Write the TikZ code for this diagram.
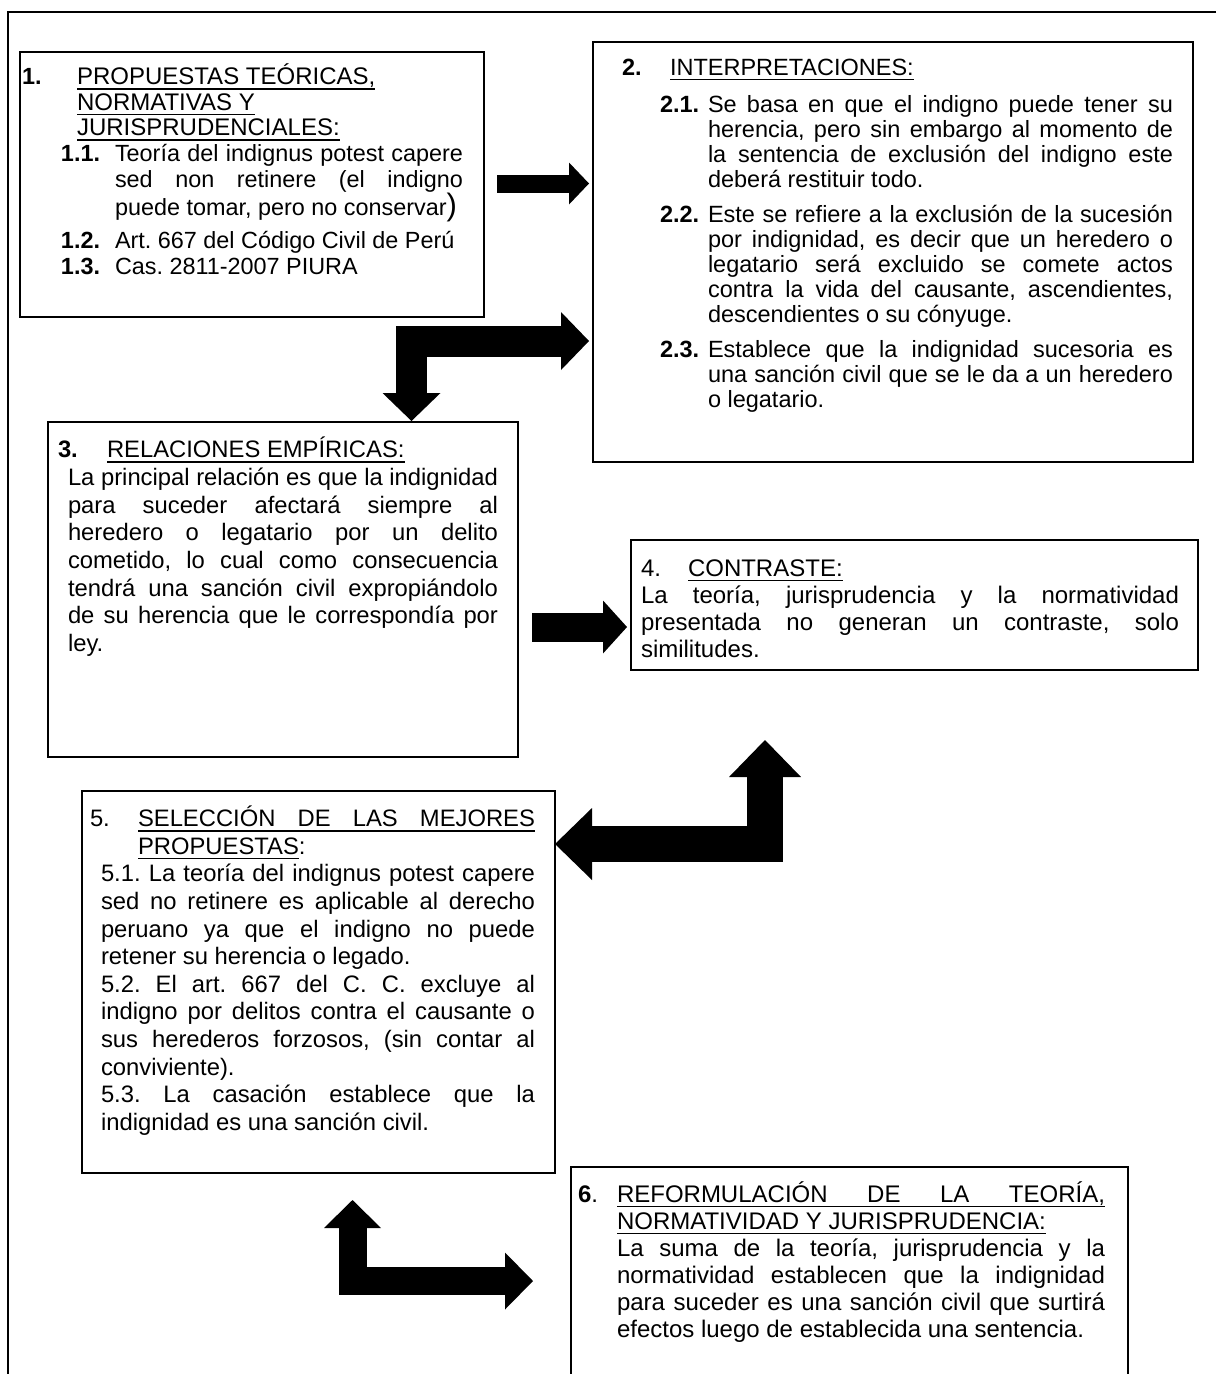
\documentclass[tikz,border=0pt]{standalone}
\usepackage{fontspec}
\setmainfont{Liberation Sans}
\usetikzlibrary{positioning,arrows.meta,calc}
\frenchspacing
\newcommand{\fl}{\rule{0pt}{23pt}}
\newcommand{\ulx}[1]{\setbox0=\hbox{#1}\rlap{\rule[-5pt]{\wd0}{1.4pt}}\box0}
\newcommand{\hitem}[3]{\par\leftskip=#1\relax\noindent\hangindent=#2\hangafter=1\relax\makebox[#2][l]{#3}\ignorespaces}
\newcommand{\bodytext}[1]{\par\leftskip=#1\relax\noindent\ignorespaces}

\tikzset{
  box/.style={draw=black, line width=1.4pt, anchor=north west, inner sep=0pt, outer sep=0pt},
  txt/.style={anchor=north west, inner sep=0pt, outer sep=0pt, align=justify},
  bigarrow/.style n args={3}{line width=#1, line join=miter, >={Triangle[width=#2,length=#3,line width=0pt]}}
}

\begin{document}
\begin{tikzpicture}[x=1pt,y=-1pt]
\path[fill=white] (0,0) rectangle (1216,1374);
\useasboundingbox (0,0) rectangle (1216,1374);
\draw[line width=2pt] (1216,12) -- (8,12) -- (8,1374);

% boxes
\node[box, minimum width=464pt, minimum height=265pt] (b1) at (20,52) {};
\node[box, minimum width=600pt, minimum height=420pt] (b2) at (593,42) {};
\node[box, minimum width=470pt, minimum height=335pt] (b3) at (48,422) {};
\node[box, minimum width=567pt, minimum height=130pt] (b4) at (631,540) {};
\node[box, minimum width=473pt, minimum height=382pt] (b5) at (82,791) {};
\node[box, minimum width=557pt, minimum height=230pt] (b6) at (571,1167) {};

% texts
\node[txt, text width=441pt, font={\fontsize{23.4}{26}\selectfont}, below right=7pt and 2pt of b1.north west] (t1) {%
\hitem{0pt}{55pt}{\fl\textbf{1.}}{\fontsize{24}{25.5}\selectfont\ulx{PROPUESTAS TEÓRICAS,}\newline\ulx{NORMATIVAS Y}\newline\ulx{JURISPRUDENCIALES:}\par}
\hitem{39pt}{54pt}{\textbf{1.1.}}Teoría del indignus potest capere\linebreak sed non retinere (el indigno\linebreak\rule[-14pt]{0pt}{26pt}puede tomar, pero no conservar{\fontsize{31}{31}\selectfont)}
\hitem{39pt}{54pt}{\textbf{1.2.}}Art. 667 del Código Civil de Perú
\hitem{39pt}{54pt}{\textbf{1.3.}}Cas. 2811-2007 PIURA\par};

\node[txt, text width=551pt, font={\fontsize{23.5}{25}\selectfont}, below right=8pt and 29pt of b2.north west] (t2) {%
\hitem{0pt}{48pt}{\fl\textbf{2.}}\ulx{INTERPRETACIONES:}\par\vspace{12pt}
\hitem{38pt}{48pt}{\textbf{2.1.}}Se basa en que el indigno puede tener su\linebreak herencia, pero sin embargo al momento de\linebreak la sentencia de exclusión del indigno este\linebreak deberá restituir todo.\par\vspace{10pt}
\hitem{38pt}{48pt}{\textbf{2.2.}}Este se refiere a la exclusión de la sucesión\linebreak por indignidad, es decir que un heredero o\linebreak legatario será excluido se comete actos\linebreak contra la vida del causante, ascendientes,\linebreak descendientes o su cónyuge.\par\vspace{10pt}
\hitem{38pt}{48pt}{\textbf{2.3.}}Establece que la indignidad sucesoria es\linebreak una sanción civil que se le da a un heredero\linebreak o legatario.\par};

\node[txt, text width=440pt, font={\fontsize{23.8}{27.7}\selectfont}, below right=8pt and 10pt of b3.north west] (t3) {%
\hitem{0pt}{49pt}{\fl\textbf{3.}}\ulx{RELACIONES EMPÍRICAS:}
\bodytext{10pt}La principal relación es que la indignidad\linebreak para suceder afectará siempre al\linebreak heredero o legatario por un delito\linebreak cometido, lo cual como consecuencia\linebreak tendrá una sanción civil expropiándolo\linebreak de su herencia que le correspondía por\linebreak ley.\par};

\node[txt, text width=538pt, font={\fontsize{24}{27}\selectfont}, below right=9pt and 10pt of b4.north west] (t4) {%
\hitem{0pt}{47pt}{\fl 4.}\ulx{CONTRASTE:}
\bodytext{0pt}La teoría, jurisprudencia y la normatividad\linebreak presentada no generan un contraste, solo\linebreak similitudes.\par};

\node[txt, text width=445pt, font={\fontsize{23.8}{27.6}\selectfont}, below right=8pt and 8pt of b5.north west] (t5) {%
\hitem{0pt}{48pt}{\fl 5.}\ulx{\makebox[397pt][s]{SELECCIÓN DE LAS MEJORES}}\newline\ulx{PROPUESTAS}:
\bodytext{11pt}5.1. La teoría del indignus potest capere\linebreak sed no retinere es aplicable al derecho\linebreak peruano ya que el indigno no puede\linebreak retener su herencia o legado.
\bodytext{11pt}5.2. El art. 667 del C. C. excluye al\linebreak indigno por delitos contra el causante o\linebreak sus herederos forzosos, (sin contar al\linebreak conviviente).
\bodytext{11pt}5.3. La casación establece que la\linebreak indignidad es una sanción civil.\par};

\node[txt, text width=527pt, font={\fontsize{24}{27}\selectfont}, below right=8pt and 7pt of b6.north west] (t6) {%
\hitem{0pt}{39pt}{\fl\textbf{6}.}\ulx{\makebox[488pt][s]{REFORMULACIÓN DE LA TEORÍA,}}\newline\ulx{NORMATIVIDAD Y JURISPRUDENCIA:}
\bodytext{39pt}La suma de la teoría, jurisprudencia y la\linebreak normatividad establecen que la indignidad\linebreak para suceder es una sanción civil que surtirá\linebreak efectos luego de establecida una sentencia.\par};

% block arrows
\draw[bigarrow={18pt}{42pt}{20pt}, ->] ($(b1.east)+(13,-1)$) -- ($(b2.west |- b1.east)+(-4,-1)$);
\draw[bigarrow={31pt}{58pt}{28pt}, <->] ($(b3.north)+(128.5,-1)$) |- ($(b2.west)+(-4,89)$);
\draw[bigarrow={29pt}{53pt}{24pt}, ->] ($(b3.east)+(14,37.5)$) -- ($(b4.west |- b3.east)+(-4,37.5)$);
\draw[bigarrow={36pt}{72pt}{37pt}, <->] ($(b5.east)+(0,-138)$) -| ($(b4.south)+(-149.5,70)$);
\draw[bigarrow={28pt}{57pt}{28pt}, <->] ($(b5.south)+(34,27)$) |- ($(b6.west)+(-38,-1)$);
\end{tikzpicture}
\end{document}
